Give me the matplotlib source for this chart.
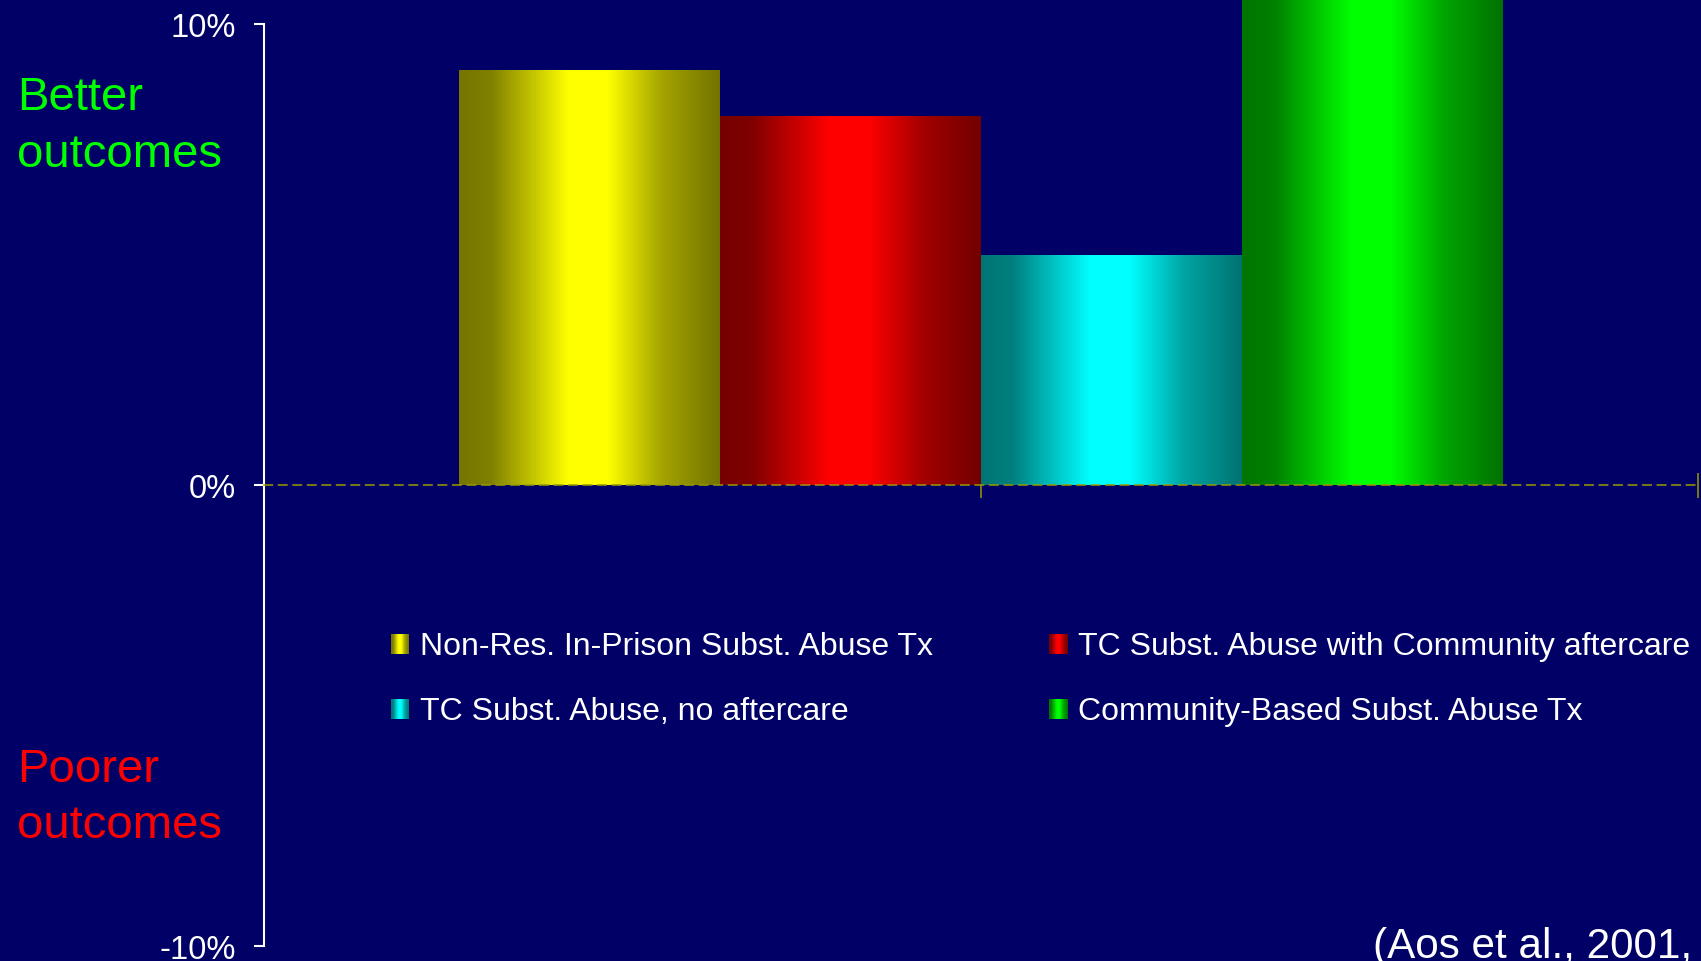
import numpy as np
import matplotlib
matplotlib.use('Agg')
import matplotlib.pyplot as plt

plt.rcParams['font.family'] = ['Liberation Sans', 'DejaVu Sans']

# data
programs = ['Non-Res. In-Prison Subst. Abuse Tx',
            'TC Subst. Abuse with Community aftercare',
            'TC Subst. Abuse, no aftercare',
            'Community-Based Subst. Abuse Tx']
effects = [9.0, 8.0, 5.0, 11.0]          # % change, last bar runs off the top
bar_colors = [(1, 1, 0), (1, 0, 0), (0, 1, 1), (0, 1, 0)]
y_ticks = [-10, 0, 10]
y_labels = ['-10%', '0%', '10%']

BG = '#000066'
OLIVE = '#9a9a00'
W, H = 1701, 962


def shade(rgb, n=200):
    # bright in the middle, darker toward both edges (cylinder look)
    t = np.linspace(0, 1, n)
    b = np.interp(t, [0, 0.12, 0.3, 0.42, 0.57, 0.78, 1.0],
                     [0.46, 0.5, 0.8, 1.0, 1.0, 0.64, 0.45])
    return (np.array(rgb)[None, None, :] * b[None, :, None]).clip(0, 1)


fig = plt.figure(figsize=(W / 100, H / 100), dpi=100, facecolor=BG)
ax = fig.add_axes([264 / W, 15 / H, (1698 - 264) / W, (947 - 25) / H])
ax.set_facecolor(BG)

width = 0.364
xs = 1 + (np.arange(len(effects)) - 1.5) * width
bars = ax.bar(xs, effects, width, color='none', edgecolor='none', zorder=2)
for b, c in zip(bars, bar_colors):
    x0, y0 = b.get_x(), b.get_y()
    im = ax.imshow(shade(c), extent=[x0, x0 + b.get_width(), y0, y0 + b.get_height()],
                   aspect='auto', interpolation='bilinear', zorder=2)
    im.set_clip_path(b)

ax.set_xlim(0, 2)
ax.set_ylim(-10, 10)

for s in ['top', 'right']:
    ax.spines[s].set_visible(False)
ax.spines['left'].set_color('white')
ax.spines['left'].set_linewidth(1.5)
ax.spines['bottom'].set_position(('data', 0))
ax.spines['bottom'].set_color(OLIVE)
ax.spines['bottom'].set_linestyle((0, (5.5, 4)))
ax.spines['bottom'].set_linewidth(1.1)
ax.spines['bottom'].set_zorder(3)

ax.set_yticks(y_ticks)
ax.set_yticklabels(y_labels)
ax.tick_params(axis='y', colors='white', labelsize=23.5, length=7.2, width=1.5,
               pad=13)
ax.set_xticks([0, 1, 2])
ax.set_xticklabels([])
ax.tick_params(axis='x', colors=OLIVE, direction='inout', length=18, width=1.1)

# side annotations
for txt, base, col in [('Better', 110, '#00ff00'), ('outcomes', 167, '#00ff00'),
                       ('Poorer', 782, '#ff0000'), ('outcomes', 838, '#ff0000')]:
    fig.text(17 / W, 1 - base / H, txt, color=col, fontsize=34,
             ha='left', va='baseline')

# legend, laid out by hand in two columns
leg_x = [391, 1049]
leg_base = [655, 720]
for i, (lab, c) in enumerate(zip(programs, bar_colors)):
    col, row = i % 2, i // 2
    sx, by = leg_x[col], leg_base[row]
    sw = fig.add_axes([sx / W, 1 - by / H, 18 / W, 20 / H])
    sw.imshow(shade(c), aspect='auto', interpolation='bilinear')
    sw.axis('off')
    fig.text((sx + 29) / W, 1 - by / H, lab, color='white', fontsize=23,
             ha='left', va='baseline')

fig.text(1373 / W, 1 - 958 / H, '(Aos et al., 2001,', color='white', fontsize=30.4,
         ha='left', va='baseline')

fig.savefig('out.png', dpi=100, facecolor=BG)
